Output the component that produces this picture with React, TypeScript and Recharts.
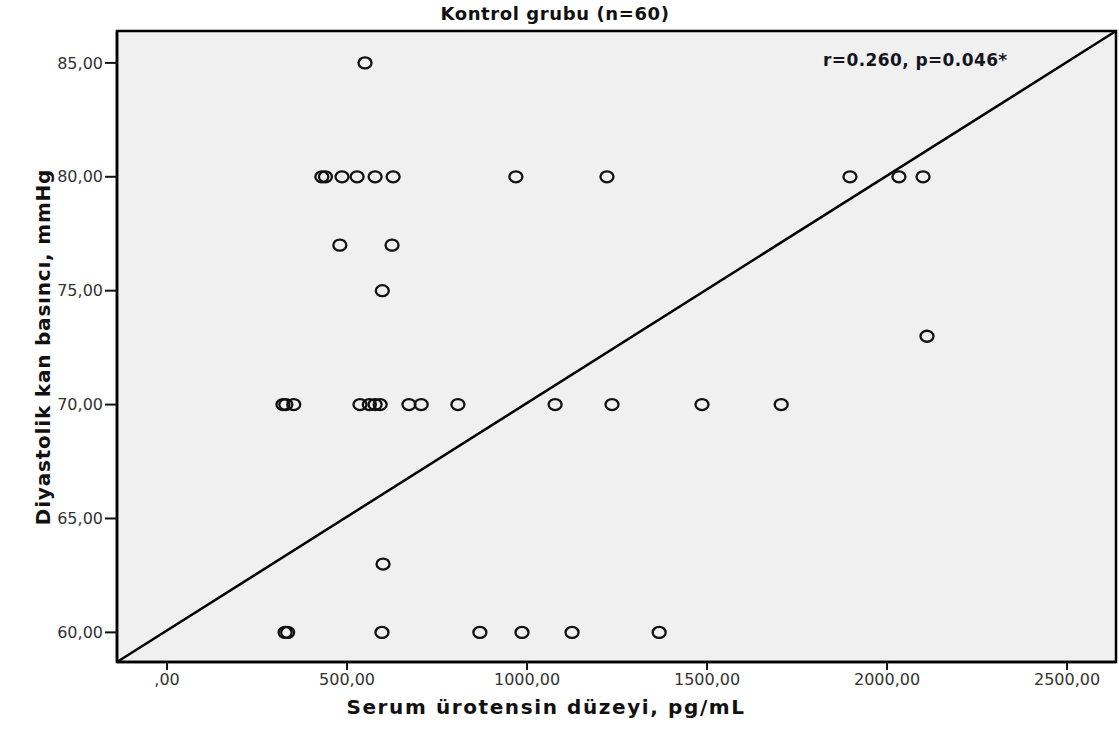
import React from 'react';
import { ScatterChart, Scatter, XAxis, YAxis, ReferenceArea, ReferenceLine } from 'recharts';

// serum urotensin (pg/mL)
const urotensin = [
  550,
  430, 440, 486, 528, 578, 628, 969, 1222, 1897, 2033, 2100,
  480, 625,
  598,
  2111,
  322, 330, 352, 536, 562, 578, 592, 672, 706, 808, 1078, 1236, 1486, 1706,
  600,
  328, 335, 597, 869, 986, 1125, 1367,
];

// diastolic pressure (mmHg), same order
const diastolic = [
  85,
  80, 80, 80, 80, 80, 80, 80, 80, 80, 80, 80,
  77, 77,
  75,
  73,
  70, 70, 70, 70, 70, 70, 70, 70, 70, 70, 70, 70, 70, 70,
  63,
  60, 60, 60, 60, 60, 60, 60,
];

const xTicks = [0, 500, 1000, 1500, 2000, 2500];
const yTicks = [60, 65, 70, 75, 80, 85];
const xDomain = [-139, 2636];
const yDomain = [58.7, 86.4];

// fitted line end points (corner to corner of the plot)
const fitLine = [
  { x: -139, y: 58.7 },
  { x: 2636, y: 86.4 },
];

const data = urotensin.map((u, i) => ({ u, d: diastolic[i] }));

const fmt = (v: number) => (v === 0 ? ',00' : v.toFixed(2).replace('.', ','));

const font = '"DejaVu Sans", sans-serif';

const Ring = (props: any) => {
  const { cx, cy } = props;
  return <ellipse cx={cx} cy={cy} rx={6.5} ry={5.5} fill="none" stroke="#111" strokeWidth={2.3} />;
};

export default function App() {
  return (
    <div style={{ position: 'absolute', left: 0, top: 0, width: 1119, height: 742, background: '#fff', fontFamily: font }}>
      <div
        style={{
          position: 'absolute', left: 0, width: 1110, top: 3, textAlign: 'center',
          fontWeight: 'bold', fontSize: 18, letterSpacing: 0.6, color: '#111', zIndex: 2,
        }}
      >
        Kontrol grubu (n=60)
      </div>
      <div
        style={{
          position: 'absolute', left: 823, top: 50, fontWeight: 'bold', fontSize: 17,
          letterSpacing: 0.4, color: '#15151f', zIndex: 2,
        }}
      >
        r=0.260, p=0.046*
      </div>
      <ScatterChart width={1119} height={742} margin={{ top: 31, right: 3, bottom: 0, left: 0 }}>
        <ReferenceArea
          x1={xDomain[0]}
          x2={xDomain[1]}
          y1={yDomain[0]}
          y2={yDomain[1]}
          fill="#f0f0f0"
          fillOpacity={1}
          stroke="#000"
          strokeWidth={2.5}
          ifOverflow="visible"
        />
        <XAxis
          type="number"
          dataKey="u"
          domain={xDomain}
          ticks={xTicks}
          allowDataOverflow
          tickFormatter={fmt}
          height={80}
          axisLine={{ stroke: '#000', strokeWidth: 2.5 }}
          tickLine={{ stroke: '#111', strokeWidth: 2 }}
          tickSize={8}
          tickMargin={4}
          tick={{ fill: '#333', fontSize: 16, fontFamily: font }}
          label={{
            content: () => (
              <text x={546} y={714} textAnchor="middle" fontFamily={font} fontWeight="bold" fontSize={20} letterSpacing={1.6} fill="#111">
                Serum ürotensin düzeyi, pg/mL
              </text>
            ),
          }}
        />
        <YAxis
          type="number"
          dataKey="d"
          domain={yDomain}
          ticks={yTicks}
          allowDataOverflow
          tickFormatter={fmt}
          width={117}
          axisLine={{ stroke: '#000', strokeWidth: 2.5 }}
          tickLine={{ stroke: '#111', strokeWidth: 2 }}
          tickSize={12}
          tickMargin={2}
          tick={{ fill: '#333', fontSize: 16, fontFamily: font }}
          label={{
            content: () => (
              <text x={50} y={347} transform="rotate(-90 50 347)" textAnchor="middle" fontFamily={font} fontWeight="bold" fontSize={20} letterSpacing={0.8} fill="#111">
                Diyastolik kan basıncı, mmHg
              </text>
            ),
          }}
        />
        <ReferenceLine segment={fitLine} stroke="#000" strokeWidth={2.5} ifOverflow="visible" />
        <Scatter data={data} shape={Ring} isAnimationActive={false} />
      </ScatterChart>
    </div>
  );
}
